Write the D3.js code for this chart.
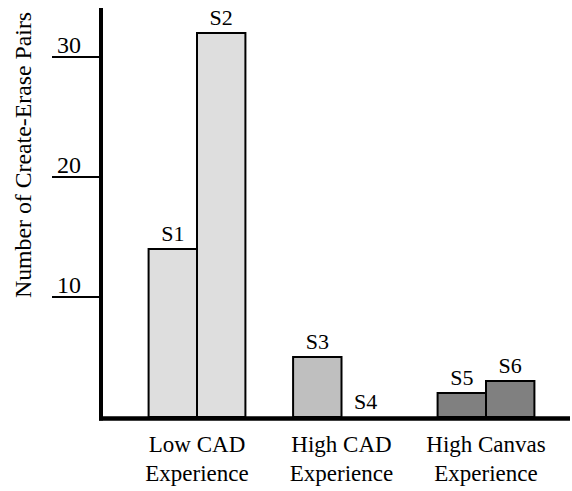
<!DOCTYPE html>
<html><head><meta charset="utf-8">
<script src="https://cdn.jsdelivr.net/npm/d3@7"></script>
<style>body{margin:0;background:#fff}svg{display:block}</style>
</head><body>
<script>
const groups = ["Low CAD|Experience", "High CAD|Experience", "High Canvas|Experience"];
const seriesLabels = ["S1", "S2", "S3", "S4", "S5", "S6"];
const values = [14, 32, 5, 0, 2, 3];
const groupOf = [0, 0, 1, 1, 2, 2];
const groupFill = ["#dedede", "#bfbfbf", "#808080"];
const yTicks = [10, 20, 30];
const yTitle = "Number of Create-Erase Pairs";

const W = 572, H = 491;
const FONT = "Liberation Serif, Times New Roman, Tinos, DejaVu Serif, serif";
const svg = d3.select("body").append("svg").attr("width", W).attr("height", H)
  .attr("font-family", FONT);

const y = d3.scaleLinear().domain([0, 34]).range([417, 9]);
const x0 = d3.scaleBand().domain(groups).range([124.75, 558.25]).paddingInner(0.33).paddingOuter(0.165);
const x1 = d3.scaleBand().domain([0, 1]).range([0, x0.bandwidth()]);

const data = values.map((v, i) => ({label: seriesLabels[i], value: v, g: groupOf[i], k: i % 2}));

svg.selectAll("rect.bar").data(data).join("rect")
  .attr("class", "bar")
  .attr("x", d => x0(groups[d.g]) + x1(d.k))
  .attr("width", x1.bandwidth())
  .attr("y", d => y(d.value))
  .attr("height", d => y(0) - y(d.value))
  .attr("fill", d => groupFill[d.g])
  .attr("stroke", "#000").attr("stroke-width", 2);

svg.selectAll("text.bl").data(data).join("text")
  .attr("class", "bl")
  .attr("font-family", FONT)
  .attr("x", d => x0(groups[d.g]) + x1(d.k) + x1.bandwidth() / 2)
  .attr("y", d => y(d.value) - 8)
  .attr("text-anchor", "middle")
  .attr("font-size", 22)
  .text(d => d.label);

svg.append("line").attr("x1", 101).attr("x2", 101).attr("y1", 8).attr("y2", 420.5)
  .attr("stroke", "#000").attr("stroke-width", 4);
svg.append("line").attr("x1", 99).attr("x2", 570).attr("y1", 418.5).attr("y2", 418.5)
  .attr("stroke", "#000").attr("stroke-width", 4.5);

const tk = svg.selectAll("g.tick").data(yTicks).join("g").attr("class", "tick")
  .attr("transform", d => `translate(0,${y(d)})`);
tk.append("line").attr("x1", 52).attr("x2", 101).attr("y1", 0).attr("y2", 0)
  .attr("stroke", "#000").attr("stroke-width", 2);
tk.append("text").attr("font-family", FONT).attr("x", 81).attr("y", -4).attr("text-anchor", "end")
  .attr("font-size", 24).text(d => d);

svg.append("text").attr("font-family", FONT).attr("transform", "translate(31,155) rotate(-90)")
  .attr("text-anchor", "middle").attr("font-size", 23.8).text(yTitle);

const cl = svg.selectAll("text.cat").data(groups).join("text").attr("class", "cat")
  .attr("font-family", FONT)
  .attr("text-anchor", "middle").attr("font-size", 23)
  .attr("transform", d => `translate(${x0(d) + x0.bandwidth() / 2},452)`);
cl.selectAll("tspan").data(d => d.split("|")).join("tspan")
  .attr("x", 0).attr("dy", (d, i) => i ? 28.5 : 0).text(d => d);
</script>
</body></html>
